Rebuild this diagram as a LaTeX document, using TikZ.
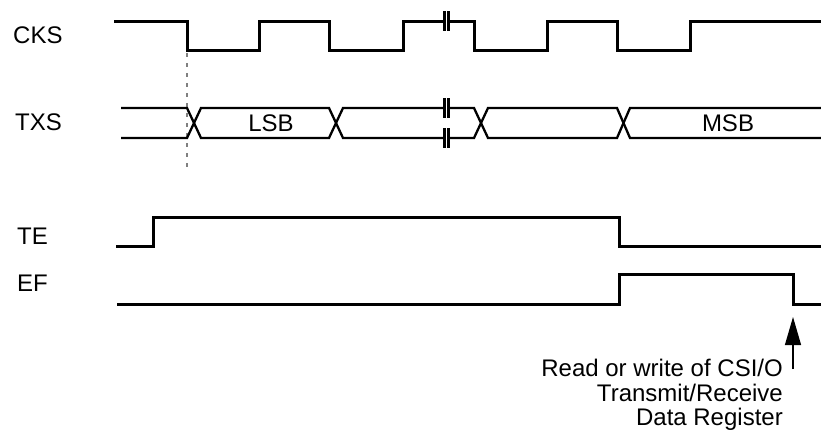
\documentclass[tikz,border=0pt]{standalone}
\usepackage{fontspec}
\setmainfont{Liberation Sans}
\usetikzlibrary{arrows.meta}

\begin{document}
\begin{tikzpicture}[x=1pt, y=-1pt,
    signal/.style={line width=3pt, line join=miter},
    bus/.style={line width=2.3pt, line join=miter},
    lbl/.style={font=\fontsize{24}{24.5}\selectfont, inner sep=0pt}]

    \useasboundingbox (0,0) rectangle (821,431);

    % Noms des signaux
    \node[lbl, anchor=west] (cks) at (13,35) {CKS};
    \node[lbl, anchor=west] (txs) at (15,122) {TXS};
    \node[lbl, anchor=west] (te) at (17,236) {TE};
    \node[lbl, anchor=west] (ef) at (17,283) {EF};

    % Horloge CKS
    \draw[signal] (114,21) -- (187,21) -- (187,50) -- (259,50) -- (259,21) -- (329,21) -- (329,50)
        -- (403,50) -- (403,21) -- (474,21) -- (474,50) -- (547,50) -- (547,21) -- (617,21)
        -- (617,50) -- (690,50) -- (690,21) -- (821,21);

    % Repère pointillé
    \draw[gray, line width=1.2pt, dash pattern=on 4pt off 6pt] (187,53) -- (187,170);

    % Données TXS
    \draw[bus] (121,108) -- (187,108) -- (201,138) -- (329,138) -- (343,108) -- (474,108)
        -- (488,138) -- (617,138) -- (630,108) -- (821,108);
    \draw[bus] (121,138) -- (187,138) -- (201,108) -- (329,108) -- (343,138) -- (474,138)
        -- (488,108) -- (617,108) -- (630,138) -- (821,138);
    \node[lbl] (lsb) at (271,123) {LSB};
    \node[lbl] (msb) at (728,123) {MSB};

    % Coupures
    \foreach \y in {21,108,138} {
        \fill[white] (445,\y-10) rectangle (448,\y+10);
        \draw[line width=2.2pt] (444.5,\y-10) -- (444.5,\y+10);
        \draw[line width=2.2pt] (448.5,\y-10) -- (448.5,\y+10);
    }

    % TE
    \draw[signal] (116,246) -- (153,246) -- (153,217) -- (619,217) -- (619,246) -- (821,246);

    % EF
    \draw[signal] (117,304) -- (619,304) -- (619,274) -- (793,274) -- (793,304) -- (821,304);

    % Lecture ou écriture du registre
    \coordinate (ef-fall) at (793,317);
    \coordinate (note-base) at (793,369);
    \draw[line width=1.2pt, -{Triangle[length=28pt, width=16pt]}] (note-base) -- (ef-fall);
    \node[lbl, align=right, anchor=north east] (note) at (783,359)
        {Read or write of CSI/O\\Transmit/Receive\\Data Register};

\end{tikzpicture}
\end{document}
